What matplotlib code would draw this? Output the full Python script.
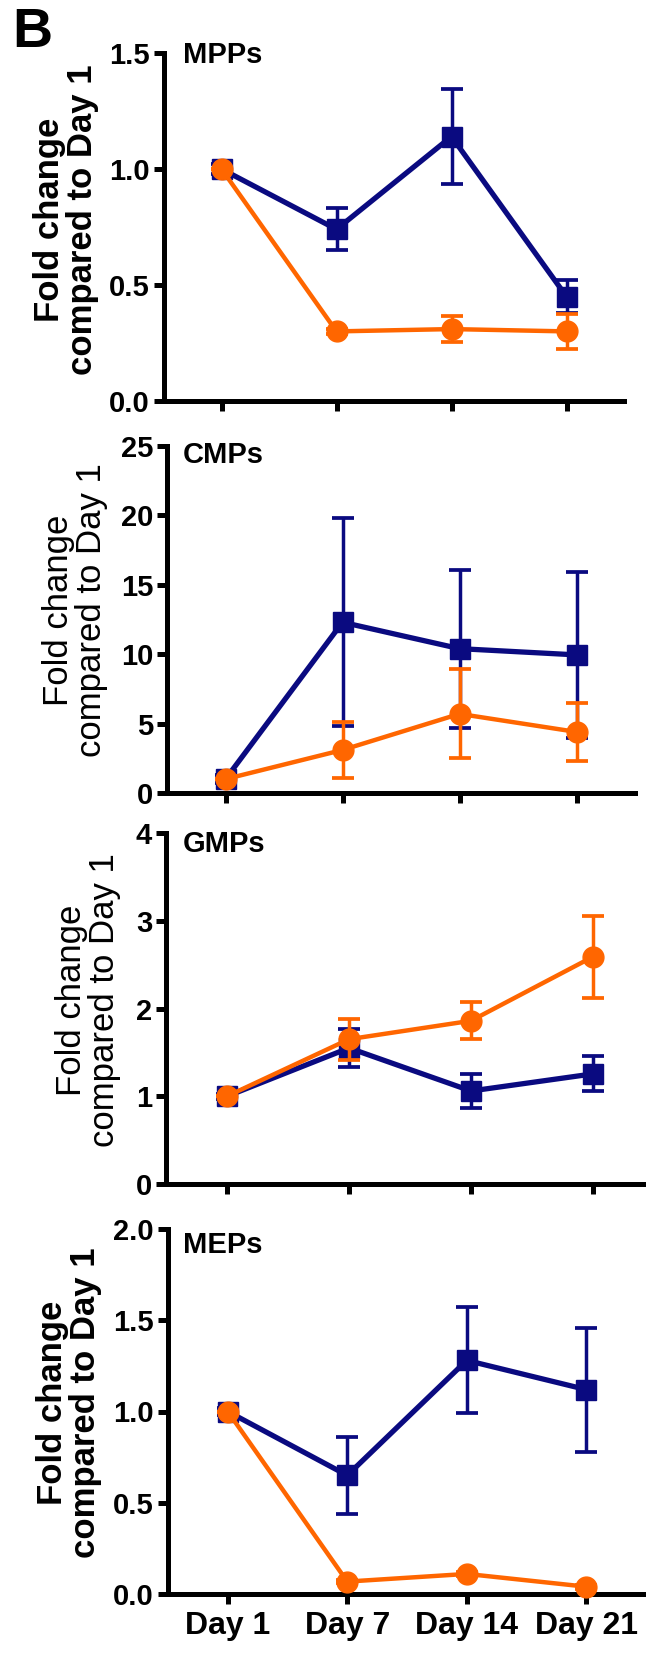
import matplotlib
matplotlib.use("Agg")
import matplotlib.pyplot as plt

plt.rcParams['font.family'] = ['Liberation Sans', 'DejaVu Sans']

days = ["Day 1", "Day 7", "Day 14", "Day 21"]

# MPPs
mpp_blue = [1.0, 0.74, 1.14, 0.45]
mpp_blue_err = [0.02, 0.09, 0.205, 0.07]
mpp_orange = [1.0, 0.30, 0.31, 0.30]
mpp_orange_err = [0.0, 0.01, 0.055, 0.075]

# CMPs
cmp_blue = [1.0, 12.3, 10.4, 9.95]
cmp_blue_err = [0.3, 7.5, 5.7, 6.0]
cmp_orange = [1.0, 3.1, 5.7, 4.4]
cmp_orange_err = [0.0, 2.05, 3.2, 2.1]

# GMPs
gmp_blue = [1.0, 1.55, 1.06, 1.255]
gmp_blue_err = [0.03, 0.22, 0.19, 0.2]
gmp_orange = [1.0, 1.65, 1.86, 2.59]
gmp_orange_err = [0.0, 0.235, 0.21, 0.465]

# MEPs
mep_blue = [1.0, 0.65, 1.28, 1.12]
mep_blue_err = [0.02, 0.21, 0.29, 0.34]
mep_orange = [1.0, 0.068, 0.11, 0.04]
mep_orange_err = [0.0, 0.01, 0.01, 0.01]

titles = ["MPPs", "CMPs", "GMPs", "MEPs"]
yticks = [[0, 0.5, 1.0, 1.5], [0, 5, 10, 15, 20, 25], [0, 1, 2, 3, 4], [0, 0.5, 1.0, 1.5, 2.0]]
yticklabels = [["0.0", "0.5", "1.0", "1.5"], ["0", "5", "10", "15", "20", "25"],
               ["0", "1", "2", "3", "4"], ["0.0", "0.5", "1.0", "1.5", "2.0"]]
blue_series = [mpp_blue, cmp_blue, gmp_blue, mep_blue]
blue_errs = [mpp_blue_err, cmp_blue_err, gmp_blue_err, mep_blue_err]
orange_series = [mpp_orange, cmp_orange, gmp_orange, mep_orange]
orange_errs = [mpp_orange_err, cmp_orange_err, gmp_orange_err, mep_orange_err]

BLUE = "#0a0a80"
ORANGE = "#ff6600"

W, H = 646, 1655
fig = plt.figure(figsize=(W / 100, H / 100), dpi=100)

# axes boxes in pixels: x0, x1, ytop, ybottom
boxes = [(164, 624, 53, 401), (167, 635, 446, 793), (166, 654, 833, 1184), (168, 646, 1229, 1594)]
label_x = [66, 75, 88, 69]
label_y = [220, 610, 1000, 1403]
label_w = ["bold", "normal", "normal", "bold"]
title_off = [2, 9, 11, 16]

x = list(range(len(days)))

for i in range(4):
    x0, x1, yt, yb = boxes[i]
    ax = fig.add_axes([x0 / W, 1 - yb / H, (x1 - x0) / W, (yb - yt) / H])
    ax.errorbar(x, blue_series[i], yerr=blue_errs[i], color=BLUE, lw=3.8, marker="s",
                ms=14, elinewidth=2.5, capsize=8, capthick=2.7, zorder=2, clip_on=False)
    ax.errorbar(x, orange_series[i], yerr=orange_errs[i], color=ORANGE, lw=3.2, marker="o",
                ms=15, elinewidth=2.5, capsize=8, capthick=2.7, zorder=3, clip_on=False)
    ax.set_xlim(-0.5, 3.5)
    ax.set_ylim(0, yticks[i][-1])
    ax.set_yticks(yticks[i])
    ax.set_yticklabels(yticklabels[i])
    ax.set_xticks(x)
    if i == 3:
        ax.set_xticklabels(days)
    else:
        ax.set_xticklabels([])
    for s in ["top", "right"]:
        ax.spines[s].set_visible(False)
    for s in ["left", "bottom"]:
        ax.spines[s].set_linewidth(3.6)
    ax.tick_params(axis="both", width=3.6, length=7, direction="out")
    ax.tick_params(axis="y", labelsize=21, pad=3)
    ax.tick_params(axis="x", labelsize=23, pad=5)
    for lab in ax.get_yticklabels() + ax.get_xticklabels():
        lab.set_fontweight("bold")
    fig.text(183 / W, 1 - (yt + title_off[i]) / H, titles[i], fontsize=21, fontweight="bold",
             ha="left", va="center")
    fig.text(label_x[i] / W, 1 - label_y[i] / H, "Fold change\ncompared to Day 1",
             rotation=90, ha="center", va="center", multialignment="center",
             fontsize=25, fontweight=label_w[i], linespacing=1.0)

fig.text(12 / W, 1 - 47 / H, "B", fontsize=40, fontweight="bold", ha="left", va="baseline")

fig.savefig("out.png", dpi=100)
